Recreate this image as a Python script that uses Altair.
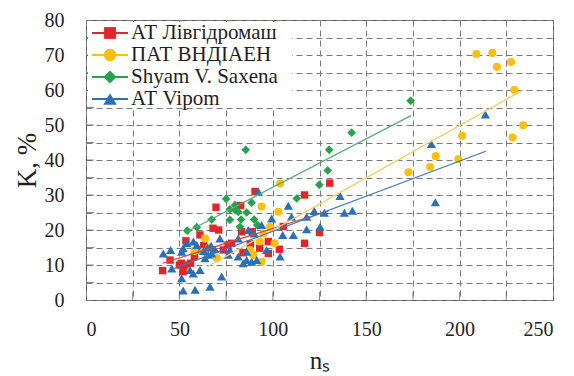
import altair as alt
import pandas as pd

names = ["АТ Лівгідромаш", "ПАТ ВНДІАЕН", "Shyam V. Saxena", "АТ Vipom"]
point_colors = ["#e3262b", "#f9c00f", "#22a44a", "#2a70b8"]
line_colors = ["#cc4a55", "#f2cf5e", "#5aae78", "#3f78b5"]
shapes = ["square", "circle", "diamond", "triangle-up"]

red_x = [41, 45, 50, 51, 53, 52, 56, 58, 61, 62, 53.5, 68, 71, 69.6, 73.5, 76, 78, 82.8, 83.3, 84,
         88, 89, 90.5, 93, 97.6, 97.6, 103.5, 105.6, 117, 117, 125, 130.5, 63]
red_y = [8.4, 11.4, 10, 10.5, 10, 8.1, 10.5, 12.4, 18.6, 14.3, 16.9, 20.5, 20, 26.5, 14.3, 15.7, 16.2, 27, 19.5, 13.5,
         16, 19.5, 31, 14.8, 16.7, 13.3, 14.5, 21, 16.2, 30, 19.3, 33.4, 15.5]

yel_x = [58, 63.7, 62.8, 66, 70, 87.8, 89.6, 93, 94, 94, 95, 98.5, 101, 103, 103.9, 172.6, 184.2, 187.2,
         199.3, 201.4, 209, 217.5, 220, 227.5, 228.4, 229.3, 234]
yel_y = [14, 17.6, 13.8, 15, 12, 14.3, 12.9, 16.7, 10.9, 26.7, 19, 20.9, 16.2, 25.2, 33.3, 36.5, 38, 41.1,
         40.2, 46.9, 70.3, 70.6, 66.6, 68, 46.4, 60, 49.9]

grn_x = [54.2, 59.3, 67.3, 75, 77, 79.8, 81.5, 77, 86, 88.7, 83, 90, 82.4, 79.8, 85.5, 91.7, 112.8, 124.9,
         129.4, 130.2, 142.2, 173.8]
grn_y = [19.8, 20.8, 23, 28.9, 25.9, 25.7, 25.2, 22.9, 25, 27.8, 23, 23, 20.9, 27.1, 42.9, 21.4, 29, 32.9,
         37, 42.9, 47.8, 56.9]

blu_x = [41.4, 45.3, 45.9, 51.2, 52, 58.4, 66.4, 72.6, 52, 51.2, 54, 57.5, 55.7, 57.4, 61, 63.7, 65.5, 67.3,
         65, 67, 59.3, 71.7, 77, 76.2, 81.5, 81.5, 84.2, 86, 88.7, 91.4, 86, 86.9, 90, 94, 96.7, 99.4, 103.9,
         105.3, 111, 108.3, 110, 118.1, 118.1, 122.2, 125.3, 127.6, 136, 138.3, 142.6, 92.2, 184.9, 187, 213.8,
         63, 69]
blu_y = [13.3, 14.3, 9, 6.2, 2.7, 2.9, 3.8, 6.7, 14.8, 13.8, 16.2, 16.7, 8.6, 7.6, 8.6, 11.9, 12.9, 13.3,
         15, 15.5, 15.7, 17.6, 14.3, 12.9, 12.4, 17.6, 10.5, 11.4, 10.9, 11.4, 13.8, 20, 19, 21.4, 14.3, 23.3, 12.4,
         18.6, 18.6, 26.9, 23.8, 23.8, 20.2, 25.4, 20.9, 24.9, 29.7, 24.9, 25.5, 31, 44.6, 27.9, 53,
         14, 14.5]

trend_x = [[41, 130], [65, 234], [54, 174], [47, 214]]
trend_y = [[10.5, 25.5], [9.5, 60.0], [19.5, 52.7], [9.0, 42.5]]

x_ticks = [0, 25, 50, 75, 100, 125, 150, 175, 200, 225, 250]
y_ticks = list(range(0, 81, 5))

rows = []
for name, xs, ys in zip(names, [red_x, yel_x, grn_x, blu_x], [red_y, yel_y, grn_y, blu_y]):
    for a, b in zip(xs, ys):
        rows.append({"series": name, "x": a, "y": b, "idx": len(rows)})
pts = pd.DataFrame(rows)

trows = []
for name, xs, ys in zip(names, trend_x, trend_y):
    for a, b in zip(xs, ys):
        trows.append({"series": name, "x": a, "y": b})
trend = pd.DataFrame(trows)

FONT = "'Liberation Serif', 'Times New Roman', serif"
TXT = "#1f1f1f"
GRID = "#7a7a7a"

color_scale = alt.Scale(domain=names, range=point_colors)
shape_scale = alt.Scale(domain=names, range=shapes)

x_enc = alt.X("x:Q", scale=alt.Scale(domain=[0, 250], nice=False),
              axis=alt.Axis(values=x_ticks, labelExpr="datum.value % 50 === 0 ? datum.label : ''",
                            grid=True, gridDash=[6, 4], gridColor=GRID, gridWidth=1,
                            ticks=False, domain=False, labelFont=FONT, labelFontSize=20,
                            labelColor=TXT, labelPadding=19, title="nₛ", titleFont=FONT,
                            titleFontSize=25, titleFontWeight="normal", titleColor=TXT,
                            titlePadding=9))
y_scale = alt.Scale(domain=[0, 80], nice=False)
y_enc = alt.Y("y:Q", scale=y_scale,
              axis=alt.Axis(values=y_ticks, labelExpr="datum.value % 10 === 0 ? datum.label : ''",
                            grid=True, gridDash=[6, 4], gridColor=GRID, gridWidth=1,
                            ticks=False, domain=False, labelFont=FONT, labelFontSize=20,
                            labelColor=TXT, labelPadding=22, title="K, %", titleFont=FONT,
                            titleFontSize=27, titleFontWeight="normal", titleColor=TXT,
                            titlePadding=3))

points = alt.Chart(pts).mark_point(filled=True, opacity=1).encode(
    x=x_enc, y=y_enc,
    color=alt.Color("series:N", scale=color_scale, legend=None),
    shape=alt.Shape("series:N", scale=shape_scale, legend=None),
    size=alt.Size("series:N", scale=alt.Scale(domain=names, range=[55, 85, 50, 70]), legend=None),
    order=alt.Order("idx:Q"),
)

lines = alt.Chart(trend).mark_line(strokeWidth=1.3).encode(
    x=x_enc,
    y=alt.Y("y:Q", scale=y_scale, axis=None),
    stroke=alt.Stroke("series:N", scale=alt.Scale(domain=names, range=line_colors), legend=None),
    detail="series:N",
)

xt = alt.Chart(pd.DataFrame({"x": x_ticks[1:-1]})).mark_tick(size=8, thickness=1, color="#595959").encode(
    x=x_enc, y=alt.value(276))
yt = alt.Chart(pd.DataFrame({"y": y_ticks[1:-1]})).mark_tick(size=8, thickness=1, color="#595959").encode(
    y=alt.Y("y:Q", scale=y_scale, axis=None), x=alt.value(4))

leg_df = pd.DataFrame({"series": names})
leg_y = alt.Y("series:N", scale=alt.Scale(type="point", domain=names, range=[13, 79], padding=0), axis=None)

leg_bg = alt.Chart(pd.DataFrame({"a": [0]})).mark_rect(fill="white").encode(
    x=alt.value(2), x2=alt.value(206), y=alt.value(2), y2=alt.value(87))
leg_line = alt.Chart(leg_df).mark_rule(strokeWidth=2).encode(
    x=alt.value(6), x2=alt.value(42), y=leg_y,
    color=alt.Color("series:N", scale=color_scale, legend=None))
leg_mark = alt.Chart(leg_df).mark_point(filled=True, opacity=1).encode(
    x=alt.value(24), y=leg_y,
    color=alt.Color("series:N", scale=color_scale, legend=None),
    shape=alt.Shape("series:N", scale=shape_scale, legend=None),
    size=alt.Size("series:N", scale=alt.Scale(domain=names, range=[140, 180, 150, 150]), legend=None))
leg_text = alt.Chart(leg_df).mark_text(align="left", baseline="middle", font=FONT, fontSize=21,
                                        color=TXT).encode(
    x=alt.value(45), y=leg_y, text="series:N")

chart = alt.layer(points, lines, xt, yt, leg_bg, leg_line, leg_mark, leg_text).resolve_scale(
    y="independent", size="independent"
).properties(
    width=467, height=280,
    autosize=alt.AutoSizeParams(type="none"),
    padding={"left": 86, "top": 20, "right": 21, "bottom": 76},
    background="white",
).configure_view(stroke="#595959", strokeWidth=1)

chart.save("out.html", embed_options={"renderer": "svg", "actions": False})
